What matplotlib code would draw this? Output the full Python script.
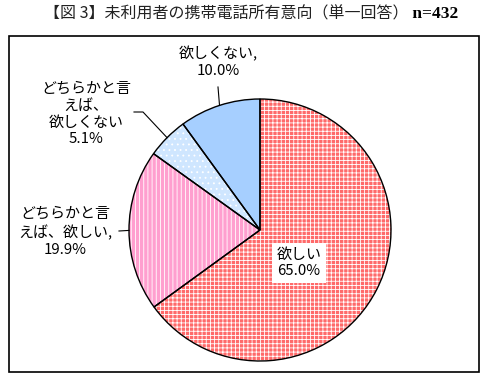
import numpy as np
import matplotlib.pyplot as plt
from matplotlib.patches import Rectangle

plt.rcParams['font.family'] = ['Noto Sans CJK JP', 'DejaVu Sans']
plt.rcParams['hatch.linewidth'] = 0.6

# data
labels = ['欲しい', 'どちらかと言\nえば、欲しい,', 'どちらかと言\nえば、\n欲しくない', '欲しくない,']
shares = [65.0, 19.9, 5.1, 10.0]
colors = ['#ff6a6a', '#ff9fcf', '#cfe6ff', '#a6cfff']
hatches = ['++++', '||||', '...', None]
title = '【図 3】未利用者の携帯電話所有意向（単一回答）'
n_text = 'n=432'

W, H = 486, 379
fig = plt.figure(figsize=(W / 100, H / 100), dpi=100)
ax = fig.add_axes([0, 0, 1, 1])

# outer frame
ax.add_patch(Rectangle((9, 7), 470, 336, fill=False, edgecolor='black', linewidth=1.2))

center = (260, 149)
radius = 131

# fills with white patterns
wedges, _ = ax.pie(shares, colors=colors, startangle=90, counterclock=False,
                   center=center, radius=radius, frame=True,
                   wedgeprops=dict(linewidth=0, edgecolor='white'))
for w, h in zip(wedges, hatches):
    if h:
        w.set_hatch(h)
# outlines
ax.pie(shares, colors=['none'] * 4, startangle=90, counterclock=False,
       center=center, radius=radius, frame=True,
       wedgeprops=dict(linewidth=1.0, edgecolor='black'))
ax.set_xlim(0, W)
ax.set_ylim(0, H)
ax.set_aspect('equal')
ax.axis('off')

# edge points at mid angles of each slice
ends = np.cumsum(shares)
mids = 90 - (ends - np.array(shares) / 2) * 3.6
edge = [(center[0] + radius * np.cos(np.radians(a)),
         center[1] + radius * np.sin(np.radians(a))) for a in mids]

fs = 10.8
ls = 1.27
# 欲しい (inside)
ax.text(299, 379 - 263, f'{labels[0]}\n{shares[0]:.1f}%', ha='center', va='center',
        fontsize=fs, linespacing=ls,
        bbox=dict(facecolor='white', edgecolor='none', pad=3))

# 欲しくない
ax.text(218, 379 - 62, f'{labels[3]}\n{shares[3]:.1f}%', ha='center', va='center',
        fontsize=fs, linespacing=ls)
ax.plot([218, edge[3][0]], [379 - 87, edge[3][1]], color='black', linewidth=0.8)

# どちらかと言えば、欲しくない
ax.text(86, 379 - 114, f'{labels[2]}\n{shares[2]:.1f}%', ha='center', va='center',
        fontsize=fs, linespacing=ls)
ax.plot([134, 143, edge[2][0]], [379 - 112, 379 - 112, edge[2][1]], color='black', linewidth=0.8)

# どちらかと言えば、欲しい
ax.text(65, 379 - 232, f'{labels[1]}\n{shares[1]:.1f}%', ha='center', va='center',
        fontsize=fs, linespacing=ls)
ax.plot([119, edge[1][0]], [379 - 231, edge[1][1]], color='black', linewidth=0.8)

# title
t = ax.text(44, 379 - 14, title, ha='left', va='center', fontsize=11.5, color='#222222')
ax.annotate(' ' + n_text, xy=(1, 0.5), xycoords=t, ha='left', va='center',
            fontsize=12.5, fontweight='bold', family='Liberation Serif')

fig.savefig('out.png', dpi=100)
